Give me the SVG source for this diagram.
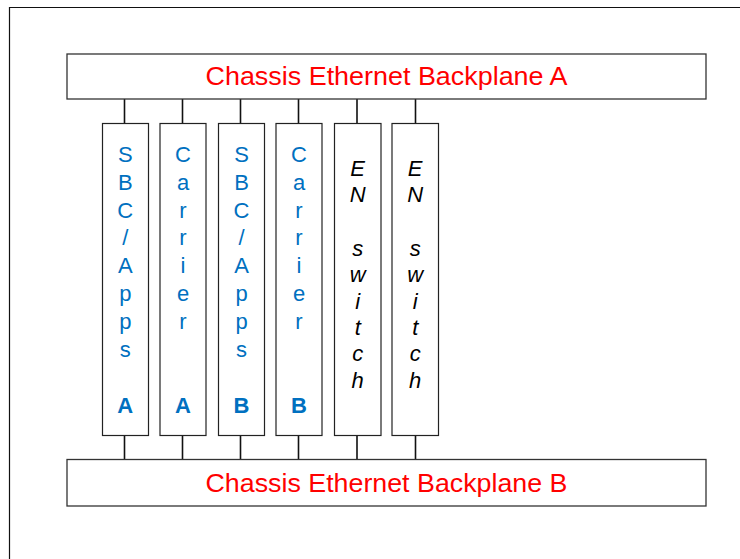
<svg xmlns="http://www.w3.org/2000/svg" width="740" height="559" viewBox="0 0 740 559">
<style>
.bp{fill:#fff;stroke:#333;stroke-width:1.3}
.card{fill:#fff;stroke:#222;stroke-width:1.2}
.title{font-family:"Liberation Sans",Arial,sans-serif;font-size:26px;fill:#FF0000;text-anchor:middle}
.blue{font-family:"Liberation Sans",Arial,sans-serif;font-size:22px;fill:#0070C0;text-anchor:middle}
.bold{font-weight:bold}
.sw{font-family:"Liberation Sans",Arial,sans-serif;font-size:22px;font-style:italic;fill:#000;text-anchor:middle}
.conn{stroke:#111;stroke-width:1.6;fill:none}
.frame{stroke:#111;stroke-width:1.2;fill:none}
</style>
<rect x="0" y="0" width="740" height="559" fill="#fff"/>
<path class="frame" d="M9.5 559 V7.5 H740"/>
<g id="connectors">
<path class="conn" d="M124.5 99 V123 M182.5 99 V123 M240.5 99 V123 M298.5 99 V123 M357 99 V123 M415.5 99 V123"/>
<path class="conn" d="M124.5 436 V459 M182.5 436 V459 M240.5 436 V459 M298.5 436 V459 M357 436 V459 M415.5 436 V459"/>
</g>
<g id="backplaneA">
<rect class="bp" x="67" y="54" width="639" height="45"/>
<text class="title" x="386.5" y="84.5" textLength="362" lengthAdjust="spacingAndGlyphs">Chassis Ethernet Backplane A</text>
</g>
<g id="backplaneB">
<rect class="bp" x="67" y="459.5" width="639" height="46.5"/>
<text class="title" x="386.5" y="491.5" textLength="362" lengthAdjust="spacingAndGlyphs">Chassis Ethernet Backplane B</text>
</g>
<g id="sbcA">
<rect class="card" x="102.5" y="123.5" width="46" height="312"/>
<text class="blue" x="125.3"><tspan x="125.3" y="161.7">S</tspan><tspan x="125.3" y="189.6">B</tspan><tspan x="125.3" y="217.5">C</tspan><tspan x="125.3" y="245.4">/</tspan><tspan x="125.3" y="273.3">A</tspan><tspan x="125.3" y="301.2">p</tspan><tspan x="125.3" y="329.1">p</tspan><tspan x="125.3" y="357">s</tspan><tspan class="bold" x="125.3" y="412.7">A</tspan></text>
</g>
<g id="carrierA">
<rect class="card" x="160" y="123.5" width="46" height="312"/>
<text class="blue" x="183"><tspan x="183" y="161.7">C</tspan><tspan x="183" y="189.6">a</tspan><tspan x="183" y="217.5">r</tspan><tspan x="183" y="245.4">r</tspan><tspan x="183" y="273.3">i</tspan><tspan x="183" y="301.2">e</tspan><tspan x="183" y="329.1">r</tspan><tspan class="bold" x="183" y="412.7">A</tspan></text>
</g>
<g id="sbcB">
<rect class="card" x="218.5" y="123.5" width="46" height="312"/>
<text class="blue" x="241.5"><tspan x="241.5" y="161.7">S</tspan><tspan x="241.5" y="189.6">B</tspan><tspan x="241.5" y="217.5">C</tspan><tspan x="241.5" y="245.4">/</tspan><tspan x="241.5" y="273.3">A</tspan><tspan x="241.5" y="301.2">p</tspan><tspan x="241.5" y="329.1">p</tspan><tspan x="241.5" y="357">s</tspan><tspan class="bold" x="241.5" y="412.7">B</tspan></text>
</g>
<g id="carrierB">
<rect class="card" x="276" y="123.5" width="46" height="312"/>
<text class="blue" x="299"><tspan x="299" y="161.7">C</tspan><tspan x="299" y="189.6">a</tspan><tspan x="299" y="217.5">r</tspan><tspan x="299" y="245.4">r</tspan><tspan x="299" y="273.3">i</tspan><tspan x="299" y="301.2">e</tspan><tspan x="299" y="329.1">r</tspan><tspan class="bold" x="299" y="412.7">B</tspan></text>
</g>
<g id="switch1">
<rect class="card" x="334.5" y="123.5" width="46.5" height="312"/>
<text class="sw" x="357.7"><tspan x="357.7" y="176">E</tspan><tspan x="357.7" y="202.4">N</tspan><tspan x="357.7" y="255.8">s</tspan><tspan x="357.7" y="282.2">w</tspan><tspan x="357.7" y="308.6">i</tspan><tspan x="357.7" y="335">t</tspan><tspan x="357.7" y="361.4">c</tspan><tspan x="357.7" y="387.8">h</tspan></text>
</g>
<g id="switch2">
<rect class="card" x="392" y="123.5" width="46.5" height="312"/>
<text class="sw" x="415.2"><tspan x="415.2" y="176">E</tspan><tspan x="415.2" y="202.4">N</tspan><tspan x="415.2" y="255.8">s</tspan><tspan x="415.2" y="282.2">w</tspan><tspan x="415.2" y="308.6">i</tspan><tspan x="415.2" y="335">t</tspan><tspan x="415.2" y="361.4">c</tspan><tspan x="415.2" y="387.8">h</tspan></text>
</g>
</svg>
